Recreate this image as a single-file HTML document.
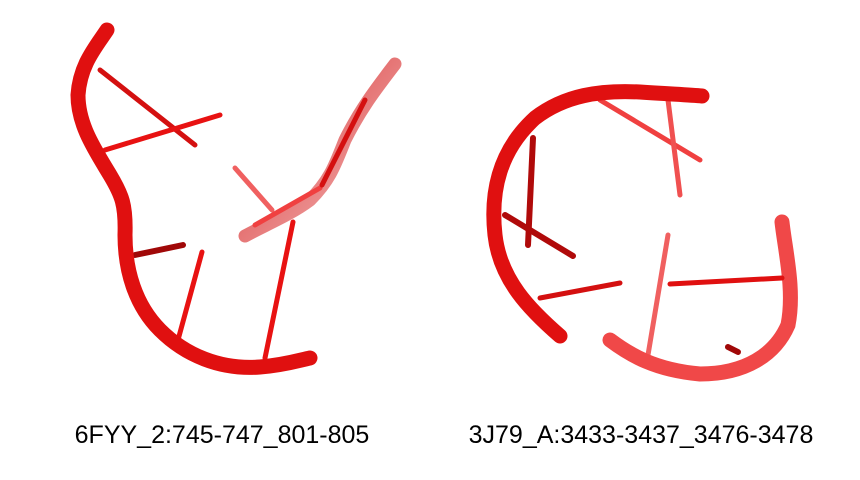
<!DOCTYPE html>
<html><head><meta charset="utf-8"><style>
html,body{margin:0;padding:0;background:#fff;}
svg{display:block;}
text{font-family:"Liberation Sans",sans-serif;font-size:25px;fill:#000;}
</style></head><body>
<svg width="860" height="480" viewBox="0 0 860 480">
<defs>
<linearGradient id="fade" x1="0" y1="0" x2="1" y2="1">
<stop offset="0" stop-color="#d01010"/><stop offset="1" stop-color="#f3b0b0"/>
</linearGradient>
</defs>
<g stroke-linecap="round" fill="none">
<path d="M395,64 C375,90 360,110 345,140 C335,165 330,180 310,200 C290,215 265,225 245,236" stroke="url(#fade)" stroke-width="13" opacity="0.85"/>
<line x1="100" y1="70" x2="195" y2="145" stroke="#d41010" stroke-width="5"/>
<line x1="105" y1="150" x2="220" y2="115" stroke="#e81212" stroke-width="5"/>
<line x1="135" y1="255" x2="183" y2="245" stroke="#a00808" stroke-width="6"/>
<line x1="178" y1="340" x2="202" y2="252" stroke="#e81212" stroke-width="5"/>
<line x1="265" y1="358" x2="293" y2="222" stroke="#e81212" stroke-width="5"/>
<line x1="235" y1="168" x2="272" y2="210" stroke="#f06060" stroke-width="5"/>
<line x1="255" y1="225" x2="320" y2="188" stroke="#f04040" stroke-width="5"/>
<line x1="322" y1="185" x2="365" y2="100" stroke="#d41010" stroke-width="5"/>
<path d="M107,30 C95,48 80,65 78,95 C78,125 95,150 110,175 C122,195 126,205 125,235 C125,270 135,305 160,330 C185,355 220,370 260,367 C285,365 300,360 310,358" stroke="#e01010" stroke-width="15"/>
</g>
<g stroke-linecap="round" fill="none">
<line x1="600" y1="100" x2="700" y2="160" stroke="#f04040" stroke-width="5"/>
<line x1="668" y1="100" x2="680" y2="195" stroke="#f05050" stroke-width="5"/>
<path d="M560,336 C530,310 500,280 495,235 C490,190 500,150 535,118 C565,95 600,90 640,92 C670,94 690,95 702,96" stroke="#e01010" stroke-width="15"/>
<line x1="533" y1="138" x2="528" y2="245" stroke="#b00a0a" stroke-width="6"/>
<line x1="505" y1="215" x2="573" y2="256" stroke="#b00a0a" stroke-width="6"/>
<line x1="540" y1="298" x2="620" y2="283" stroke="#d41010" stroke-width="5"/>
<line x1="648" y1="355" x2="668" y2="235" stroke="#f06060" stroke-width="5"/>
<path d="M610,340 C630,355 655,370 700,374 C745,374 775,355 788,325 C795,290 785,250 782,222" stroke="#f04848" stroke-width="15"/>
<line x1="670" y1="284" x2="782" y2="278" stroke="#e01010" stroke-width="5"/>
<line x1="728" y1="347" x2="738" y2="352" stroke="#a00808" stroke-width="6"/>
</g>
<text x="222" y="443" text-anchor="middle">6FYY_2:745-747_801-805</text>
<text x="641" y="443" text-anchor="middle">3J79_A:3433-3437_3476-3478</text>
</svg>
</body></html>
